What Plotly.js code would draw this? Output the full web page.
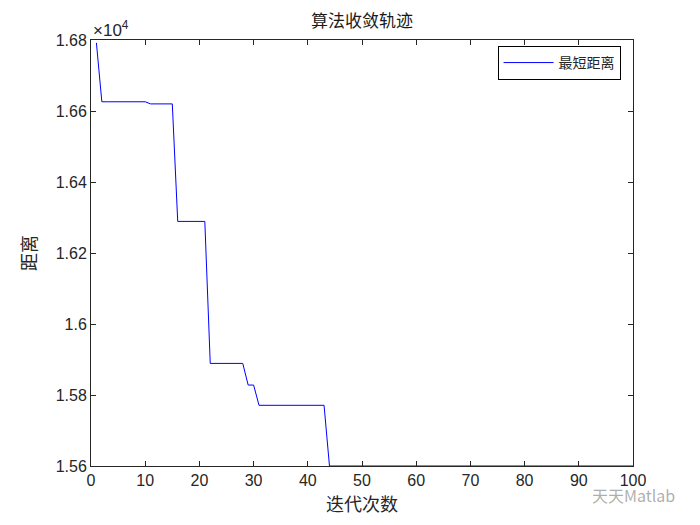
<!DOCTYPE html>
<html>
<head>
<meta charset="utf-8">
<script src="https://cdn.plot.ly/plotly-3.0.1.min.js"></script>
<style>html,body{margin:0;padding:0;background:#fff;}#chart{width:700px;height:525px;}</style>
</head>
<body>
<div id="chart"></div>
<script>
const iterations = [];
for (let i = 1; i <= 100; i++) iterations.push(i);
const shortestDistance = [
  16792,
  16626, 16626, 16626, 16626, 16626, 16626, 16626, 16626, 16626,
  16620, 16620, 16620, 16620, 16620,
  16289, 16289, 16289, 16289, 16289, 16289,
  15889, 15889, 15889, 15889, 15889, 15889, 15889,
  15828, 15828,
  15771, 15771, 15771, 15771, 15771, 15771, 15771, 15771, 15771, 15771, 15771, 15771, 15771,
  15600, 15600, 15600, 15600, 15600, 15600, 15600, 15600, 15600, 15600,
  15600, 15600, 15600, 15600, 15600, 15600, 15600, 15600, 15600, 15600,
  15600, 15600, 15600, 15600, 15600, 15600, 15600, 15600, 15600, 15600,
  15600, 15600, 15600, 15600, 15600, 15600, 15600, 15600, 15600, 15600,
  15600, 15600, 15600, 15600, 15600, 15600, 15600, 15600, 15600, 15600,
  15600, 15600, 15600, 15600, 15600, 15600, 15600
];
const yTickVals = [15600, 15800, 16000, 16200, 16400, 16600, 16800];
const yTickText = ['1.56', '1.58', '1.6', '1.62', '1.64', '1.66', '1.68'];
const xTickVals = [0, 10, 20, 30, 40, 50, 60, 70, 80, 90, 100];

const cjk = '"Noto Sans CJK SC", "Noto Sans", sans-serif';
const latin = '"Liberation Sans", Arial, Helvetica, sans-serif';
const axisColor = '#262626';

const trace = {
  x: iterations,
  y: shortestDistance,
  type: 'scatter',
  mode: 'lines',
  name: '最短距离',
  line: {color: '#0000FF', width: 1}
};

const layout = {
  width: 700, height: 525,
  margin: {l: 91, r: 67, t: 40, b: 59},
  paper_bgcolor: '#ffffff', plot_bgcolor: '#ffffff',
  title: {text: '算法收敛轨迹', font: {family: cjk, size: 17, color: '#1a1a1a'}, x: 0.5, xref: 'paper', y: 1, yref: 'container', yanchor: 'top', pad: {t: 15}},
  showlegend: true,
  legend: {
    x: 0.977, xanchor: 'right', y: 0.986, yanchor: 'top',
    bordercolor: '#000', borderwidth: 1, bgcolor: '#fff',
    itemwidth: 50, tracegroupgap: 0,
    font: {family: cjk, size: 14, color: '#262626'}
  },
  xaxis: {
    range: [0, 100], tickvals: xTickVals, ticks: 'inside', ticklen: 5, tickcolor: axisColor,
    showline: true, linecolor: axisColor, linewidth: 1, mirror: 'allticks',
    showgrid: false, zeroline: false,
    tickfont: {family: latin, size: 16, color: axisColor},
    title: {text: '迭代次数', font: {family: cjk, size: 18, color: axisColor}, standoff: 10}
  },
  yaxis: {
    range: [15600, 16800], tickvals: yTickVals, ticktext: yTickText, ticks: 'inside', ticklen: 5, tickcolor: axisColor,
    showline: true, linecolor: axisColor, linewidth: 1, mirror: 'allticks',
    showgrid: false, zeroline: false,
    tickfont: {family: latin, size: 16, color: axisColor},
    title: {text: '距离', font: {family: cjk, size: 18, color: axisColor}, standoff: 14}
  },
  annotations: [
    {xref: 'paper', yref: 'paper', x: 0, y: 1, xanchor: 'left', yanchor: 'bottom', yshift: -2,
     text: '×10<sup>4</sup>', showarrow: false, font: {family: latin, size: 17, color: axisColor}},
    {xref: 'paper', yref: 'paper', x: 1.081, y: -0.068, xanchor: 'right', yanchor: 'middle',
     text: '天天Matlab', showarrow: false, font: {family: cjk, size: 16, color: 'rgba(120,120,120,0.6)'}}
  ]
};

Plotly.newPlot('chart', [trace], layout, {displayModeBar: false, staticPlot: true});
</script>
</body>
</html>
